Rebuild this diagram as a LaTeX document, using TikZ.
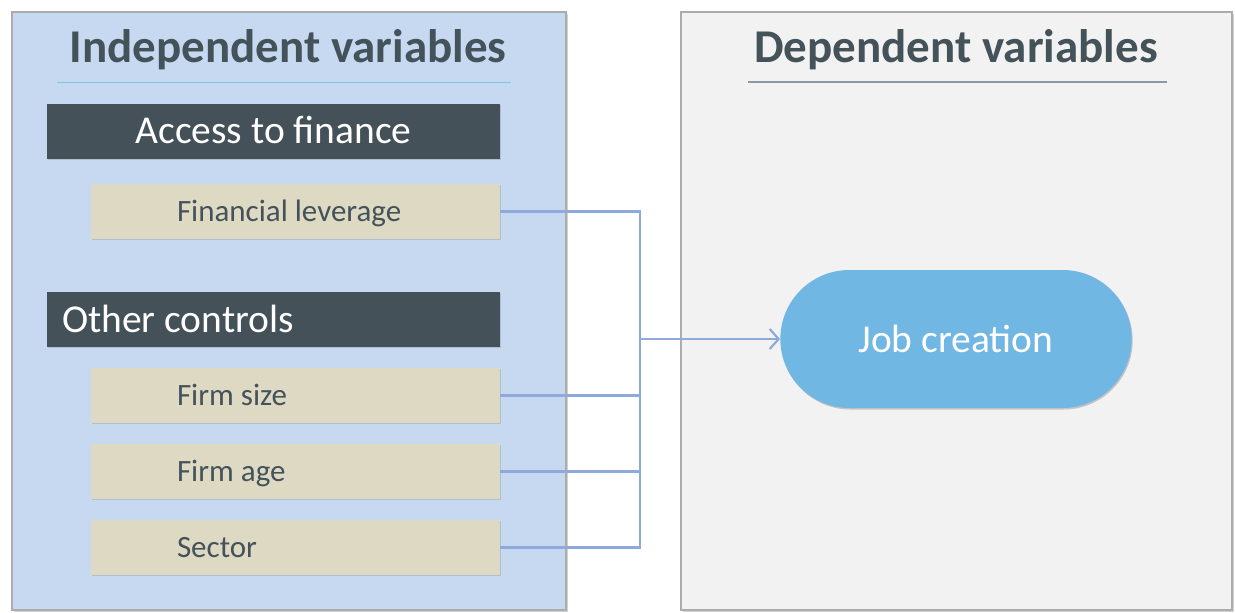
\documentclass[tikz,border=0pt]{standalone}
\usepackage{fontspec}
\setmainfont{Carlito}
\usetikzlibrary{shapes.misc,shadows,arrows.meta}
\definecolor{panelblue}{HTML}{C6D9F0}
\definecolor{panelgray}{HTML}{F2F2F2}
\definecolor{darkslate}{HTML}{455159}
\definecolor{beige}{HTML}{DDD9C3}
\definecolor{jobblue}{HTML}{71B7E3}
\definecolor{connblue}{HTML}{8EAADB}
\definecolor{titlecol}{HTML}{44525A}
\definecolor{ulblue}{HTML}{7DC3E8}
\definecolor{ulgray}{HTML}{8C99A3}
\tikzset{
  panel/.style={draw=gray!65, line width=1.8pt, drop shadow={shadow xshift=1.5pt, shadow yshift=-1.5pt, opacity=0.35}},
  hdrbox/.style={fill=darkslate, text=white, minimum width=453pt, minimum height=55pt, inner xsep=0pt,
     text height=25pt, text depth=0pt, font=\fontsize{39.5}{42}\selectfont,
     drop shadow={shadow xshift=1pt, shadow yshift=-1pt, opacity=0.3}},
  itembox/.style={fill=beige, text=titlecol, minimum height=55pt, text width=409pt, inner xsep=0pt, align=flush left,
     text height=19pt, text depth=0pt, font=\fontsize{31}{34}\selectfont,
     drop shadow={shadow xshift=1pt, shadow yshift=-1pt, opacity=0.3}},
  titletext/.style={text=titlecol, font=\fontsize{47}{50}\selectfont\bfseries, anchor=base, inner sep=0pt},
  conn/.style={draw=connblue, line width=2.2pt},
  jobnode/.style={rounded rectangle, fill=jobblue, text=white, minimum width=358pt, minimum height=138pt,
     font=\fontsize{39.5}{42}\selectfont, drop shadow={shadow xshift=1pt, shadow yshift=-1.5pt, opacity=0.4}}
}
\begin{document}
\begin{tikzpicture}[x=1pt,y=-1pt]
\useasboundingbox (0,0) rectangle (1235,613);
% panels
\path[panel, fill=panelblue] (12,12) rectangle (566,610);
\path[panel, fill=panelgray] (681,12) rectangle (1232,610);
% titles
\node[titletext] (tind) at (288,62) {Independent variables};
\node[titletext] (tdep) at (956,62) {Dependent variables};
\draw[ulblue, line width=1pt] (57,82) -- (511,82);
\draw[ulgray, line width=1.4pt] (748,82) -- (1167,82);
% headers
\node[hdrbox] (acc) at (273.5,131) {Access to finance};
\node[hdrbox, text width=453pt, align=flush left] (oth) at (273.5,319.5) {\hspace*{15pt}Other controls};
% items
\node[itembox] (fl) at (295.5,211.5) {\hspace*{86pt}Financial leverage};
\node[itembox] (fs) at (295.5,395.5) {\hspace*{86pt}Firm size};
\node[itembox] (fa) at (295.5,471.5) {\hspace*{86pt}Firm age};
\node[itembox] (sec) at (295.5,547.5) {\hspace*{86pt}Sector};
% job creation
\node[jobnode] (job) at (956,339) {Job creation};
% connectors
\coordinate (bus) at (640,0);
\draw[conn] (fl.east) -- (fl.east -| bus) -- (sec.east -| bus) -- (sec.east);
\draw[conn] (fs.east) -- (fs.east -| bus);
\draw[conn] (fa.east) -- (fa.east -| bus);
\draw[conn, -{Straight Barb[length=9pt,width=20pt,line width=2.2pt]}] (job.west -| bus) -- (job.west);
\end{tikzpicture}
\end{document}
